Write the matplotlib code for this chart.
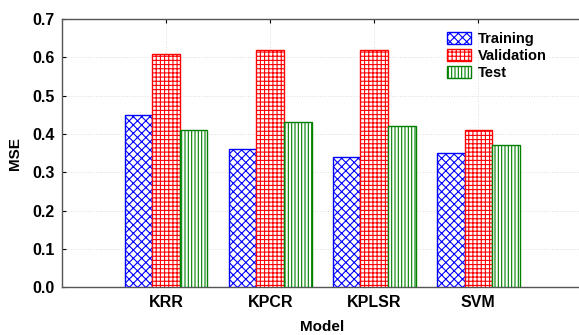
import numpy as np
import matplotlib.pyplot as plt

plt.rcParams['font.family'] = ['Liberation Sans', 'DejaVu Sans']
plt.rcParams['font.weight'] = 'bold'
plt.rcParams['hatch.linewidth'] = 0.8

models = ["KRR", "KPCR", "KPLSR", "SVM"]
training = [0.45, 0.36, 0.34, 0.35]
validation = [0.61, 0.62, 0.62, 0.41]
test = [0.41, 0.43, 0.42, 0.37]

x = np.arange(1, len(models) + 1)
w = 0.265

fig = plt.figure(figsize=(5.79, 3.35), dpi=100)
ax = fig.add_axes([0.107, 0.143, 0.899, 0.8])

ax.bar(x - w, training, w, color="white", edgecolor="blue", hatch="xxxx", linewidth=1, label="Training", zorder=3)
ax.bar(x, validation, w, color="white", edgecolor="red", hatch="++++", linewidth=1, label="Validation", zorder=3)
ax.bar(x + w, test, w, color="white", edgecolor="green", hatch="|||||", linewidth=1, label="Test", zorder=3)

ax.set_xlim(0, 5)
ax.set_ylim(0, 0.7)
ax.set_xticks(x)
ax.set_xticklabels(models)
ax.set_yticks(np.arange(0, 0.71, 0.1))
ax.set_yticklabels([f"{v:.1f}" for v in np.arange(0, 0.71, 0.1)])
ax.tick_params(direction="in", top=True, length=3, labelsize=11.5)
ax.tick_params(axis="y", pad=5)
ax.tick_params(axis="x", pad=6)
ax.grid(True, color="#dddddd", linestyle=":", linewidth=0.7, zorder=0)

for s in ["left", "bottom", "top"]:
    ax.spines[s].set_color("#555555")
    ax.spines[s].set_linewidth(1.0)
ax.spines["right"].set_visible(False)

ax.set_xlabel("Model", fontsize=11, fontweight="bold", labelpad=7)
ax.set_ylabel("MSE", fontsize=11, fontweight="bold", labelpad=8)

ax.legend(loc="upper left", bbox_to_anchor=(0.715, 1.0), frameon=False, fontsize=10.5,
          handlelength=1.6, handleheight=0.9, handletextpad=0.5, labelspacing=0.2)

plt.savefig("out.png", dpi=100)
